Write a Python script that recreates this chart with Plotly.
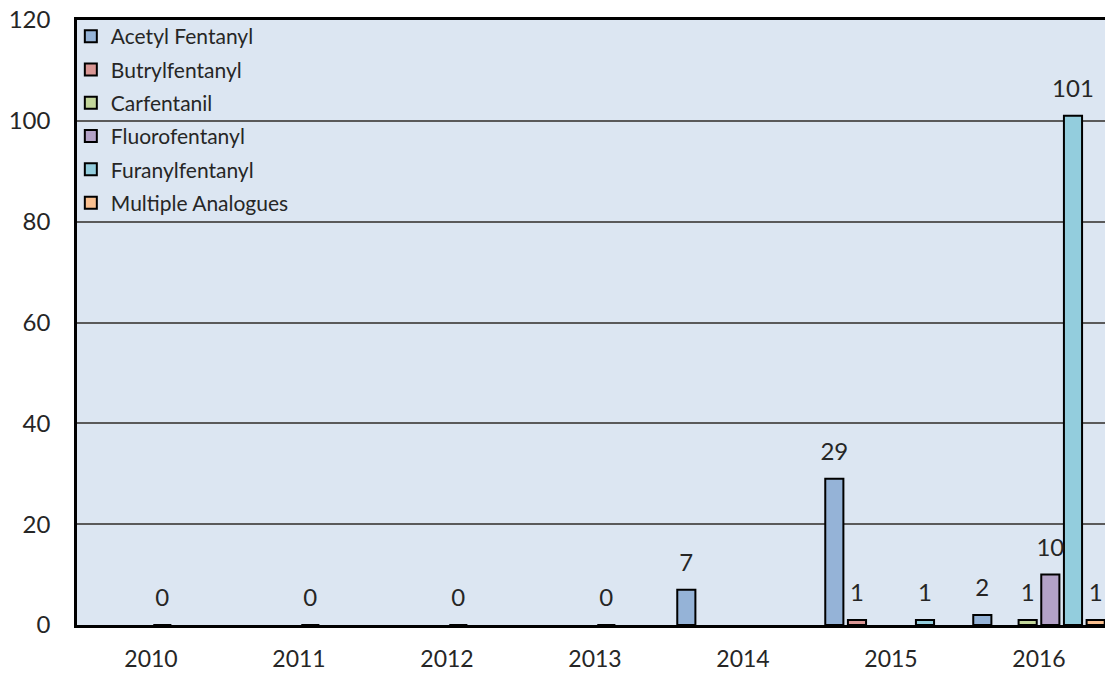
import plotly.graph_objects as go

years = ["2010", "2011", "2012", "2013", "2014", "2015", "2016"]
series_names = ["Acetyl Fentanyl", "Butrylfentanyl", "Carfentanil",
                "Fluorofentanyl", "Furanylfentanyl", "Multiple Analogues"]
acetyl = [None, None, None, None, 7, 29, 2]
butryl = [None, None, None, None, None, 1, None]
carfentanil = [None, None, None, None, None, None, 1]
fluoro = [0, 0, 0, 0, None, None, 10]
furanyl = [None, None, None, None, None, 1, 101]
multiple = [None, None, None, None, None, None, 1]
values = [acetyl, butryl, carfentanil, fluoro, furanyl, multiple]
colors = ["#95B3D7", "#D99694", "#C3D69B", "#B3A2C7", "#93CDDD", "#FAC090"]
y_ticks = [0, 20, 40, 60, 80, 100, 120]

FONT = "Lato"
TXT = "#262626"
GAP = 0.081

fig = go.Figure()
for name, vals, col in zip(series_names, values, colors):
    fig.add_trace(go.Bar(
        x=years, y=vals, name=name, legendgroup=name,
        marker=dict(color=col, line=dict(color="#000000", width=2)),
        hoverinfo="skip",
    ))
for name, vals in zip(series_names, values):
    fig.add_trace(go.Scatter(
        x=years, y=vals, mode="markers+text", showlegend=False,
        text=[("" if v is None else str(v)) for v in vals],
        textposition="top center",
        textfont=dict(family=FONT, size=24, color=TXT),
        marker=dict(size=19, opacity=0),
        cliponaxis=False, hoverinfo="skip",
    ))

fig.update_layout(
    width=1105, height=673,
    margin=dict(l=77, r=0, t=20, b=48),
    paper_bgcolor="#FFFFFF",
    plot_bgcolor="#DCE6F2",
    barmode="group", bargap=GAP, bargroupgap=0.2,
    scattermode="group", scattergap=GAP,
    font=dict(family=FONT, color=TXT),
    showlegend=True,
    legend=dict(
        x=-0.006, y=1.0066, xanchor="left", yanchor="top",
        bgcolor="rgba(0,0,0,0)", borderwidth=0,
        font=dict(family=FONT, size=21, color=TXT),
        traceorder="grouped", tracegroupgap=3,
    ),
    xaxis=dict(
        type="category", range=[-0.5, 6.446], automargin=False,
        showline=True, linecolor="#000000", linewidth=2.5, mirror=True,
        showgrid=False, ticks="",
        tickfont=dict(family=FONT, size=23, color=TXT),
        ticklabelstandoff=12,
    ),
    yaxis=dict(
        range=[0, 120], tickvals=y_ticks, automargin=False,
        showline=True, linecolor="#000000", linewidth=2.5,
        showgrid=True, gridcolor="#5A5A5A", gridwidth=1.5,
        zeroline=False, ticks="",
        tickfont=dict(family=FONT, size=24, color=TXT),
        ticklabelstandoff=19,
    ),
)

fig.write_html("out.html")
